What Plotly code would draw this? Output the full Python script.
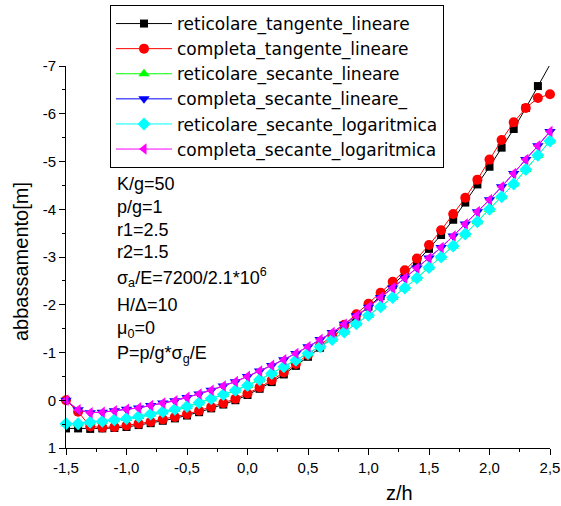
import plotly.graph_objects as go

x = [-1.5, -1.4, -1.3, -1.2, -1.1, -1.0, -0.9, -0.8, -0.7, -0.6, -0.5, -0.4, -0.3, -0.2, -0.1,
     0.0, 0.1, 0.2, 0.3, 0.4, 0.5, 0.6, 0.7, 0.8, 0.9, 1.0, 1.1, 1.2, 1.3, 1.4, 1.5,
     1.6, 1.7, 1.8, 1.9, 2.0, 2.1, 2.2, 2.3, 2.4, 2.5]

reticolare_tangente_lineare = [
    0.59, 0.59, 0.60, 0.59, 0.58, 0.56, 0.52, 0.48, 0.43, 0.38, 0.32, 0.25, 0.17, 0.09, 0.00,
    -0.11, -0.24, -0.38, -0.54, -0.72, -0.91, -1.10, -1.31, -1.52, -1.74, -1.96, -2.18, -2.41, -2.65, -2.90, -3.17,
    -3.46, -3.78, -4.14, -4.52, -4.89, -5.29, -5.68, -6.12, -6.58, -7.03]

completa_tangente_lineare = [
    0.00, 0.24, 0.55, 0.57, 0.56, 0.53, 0.49, 0.45, 0.40, 0.35, 0.29, 0.22, 0.14, 0.06, -0.03,
    -0.14, -0.27, -0.42, -0.58, -0.76, -0.95, -1.15, -1.36, -1.58, -1.80, -2.02, -2.25, -2.48, -2.72, -2.97, -3.25,
    -3.56, -3.90, -4.24, -4.62, -5.04, -5.45, -5.82, -6.12, -6.33, -6.41]

reticolare_secante_lineare = [
    0.49, 0.49, 0.46, 0.44, 0.41, 0.38, 0.34, 0.29, 0.24, 0.19, 0.13, 0.05, -0.03, -0.12, -0.21,
    -0.31, -0.43, -0.56, -0.70, -0.84, -0.98, -1.12, -1.27, -1.43, -1.60, -1.78, -1.96, -2.15, -2.35, -2.56, -2.78,
    -3.00, -3.23, -3.48, -3.74, -4.00, -4.26, -4.53, -4.83, -5.13, -5.43]

completa_secante_lineare = [
    0.00, 0.20, 0.26, 0.25, 0.22, 0.19, 0.16, 0.11, 0.06, 0.01, -0.06, -0.13, -0.21, -0.30, -0.39,
    -0.50, -0.61, -0.73, -0.85, -0.98, -1.12, -1.27, -1.42, -1.59, -1.77, -1.95, -2.15, -2.35, -2.56, -2.77, -2.98,
    -3.20, -3.44, -3.69, -3.95, -4.20, -4.47, -4.75, -5.04, -5.33, -5.63]

reticolare_secante_logaritmica = [
    0.49, 0.49, 0.46, 0.44, 0.41, 0.38, 0.34, 0.29, 0.24, 0.19, 0.13, 0.05, -0.03, -0.12, -0.21,
    -0.31, -0.43, -0.56, -0.70, -0.84, -0.98, -1.12, -1.27, -1.43, -1.60, -1.78, -1.96, -2.15, -2.35, -2.56, -2.78,
    -3.00, -3.23, -3.48, -3.74, -4.00, -4.26, -4.53, -4.83, -5.13, -5.43]

completa_secante_logaritmica = [
    0.00, 0.20, 0.26, 0.25, 0.22, 0.19, 0.16, 0.11, 0.06, 0.01, -0.06, -0.13, -0.21, -0.30, -0.39,
    -0.50, -0.61, -0.73, -0.85, -0.98, -1.12, -1.27, -1.42, -1.59, -1.77, -1.95, -2.15, -2.35, -2.56, -2.77, -2.98,
    -3.20, -3.44, -3.69, -3.95, -4.20, -4.47, -4.75, -5.04, -5.33, -5.63]

series_names = ["reticolare_tangente_lineare", "completa_tangente_lineare", "reticolare_secante_lineare",
                "completa_secante_lineare_", "reticolare_secante_logaritmica", "completa_secante_logaritmica"]
series_values = [reticolare_tangente_lineare, completa_tangente_lineare, reticolare_secante_lineare,
                 completa_secante_lineare, reticolare_secante_logaritmica, completa_secante_logaritmica]

x_tickvals = [-1.5, -1.0, -0.5, 0.0, 0.5, 1.0, 1.5, 2.0, 2.5]
x_ticktext = ["-1,5", "-1,0", "-0,5", "0,0", "0,5", "1,0", "1,5", "2,0", "2,5"]
y_tickvals = [-7, -6, -5, -4, -3, -2, -1, 0, 1]
y_ticktext = ["-7", "-6", "-5", "-4", "-3", "-2", "-1", "0", "1"]

param_lines = ["K/g=50", "p/g=1", "r1=2.5", "r2=1.5",
               "σ<sub>a</sub>/E=7200/2.1*10<sup>6</sup>", "H/Δ=10", "μ<sub>0</sub>=0",
               "P=p/g*σ<sub>g</sub>/E"]

FONT = "Arial, 'Liberation Sans', sans-serif"
LEGFONT = "'DejaVu Sans', Arial, sans-serif"
colors = ["#000000", "#FF0000", "#00FF00", "#0000FF", "#00FFFF", "#FF00FF"]
symbols = ["square", "circle", "triangle-up", "triangle-down", "diamond", "triangle-left"]
sizes = [8, 10, 10, 10, 10, 10]

fig = go.Figure()
for i, (name, vals) in enumerate(zip(series_names, series_values)):
    fig.add_trace(go.Scatter(
        x=x, y=vals, name=name, mode="lines+markers",
        line=dict(color=colors[i], width=1),
        marker=dict(symbol=symbols[i], size=sizes[i], color=colors[i], line=dict(width=0)),
        cliponaxis=(i == 0),
    ))

W, H = 561, 506
L, R, T, B = 66, 11, 66, 58
pw, ph = W - L - R, H - T - B

def px2paper(px, py):
    return (px - L) / pw, (H - B - py) / ph

ann = []
line_y = [184, 207, 230, 252, 277, 305, 329, 354]
for txt, yy in zip(param_lines, line_y):
    ax_, ay_ = px2paper(115, yy)
    ann.append(dict(text=txt, x=ax_, y=ay_, xref="paper", yref="paper", xanchor="left", yanchor="middle",
                    showarrow=False, font=dict(size=18, family=FONT, color="black")))

tx, ty = px2paper(399, 493)
ann.append(dict(text="z/h", x=tx, y=ty, xref="paper", yref="paper", xanchor="center", yanchor="middle",
                showarrow=False, font=dict(size=20, family=FONT, color="black")))
tx, ty = px2paper(21, 262)
ann.append(dict(text="abbassamento[m]", x=tx, y=ty, xref="paper", yref="paper", xanchor="center",
                yanchor="middle", textangle=-90, showarrow=False,
                font=dict(size=20, family=FONT, color="black")))

lx, ly = px2paper(110, 5)

fig.update_layout(
    width=W, height=H,
    margin=dict(l=L, r=R, t=T, b=B, autoexpand=False),
    paper_bgcolor="white", plot_bgcolor="white",
    font=dict(family=FONT, color="black"),
    showlegend=True,
    legend=dict(x=lx, y=ly, xanchor="left", yanchor="top", bordercolor="black", borderwidth=1,
                bgcolor="white", font=dict(size=17, family=LEGFONT, color="black"),
                itemwidth=56, tracegroupgap=0),
    annotations=ann,
    xaxis=dict(range=[-1.5, 2.5], tickvals=x_tickvals, ticktext=x_ticktext, ticks="outside", ticklen=6,
               tickwidth=1, tickcolor="black", showline=True, linecolor="black", linewidth=1,
               showgrid=False, zeroline=False, tickfont=dict(size=15, family=FONT, color="black"),
               minor=dict(dtick=0.25, tick0=-1.5, ticks="outside", ticklen=3, tickcolor="black", showgrid=False)),
    yaxis=dict(range=[1, -7], tickvals=y_tickvals, ticktext=y_ticktext, ticks="outside", ticklen=6,
               tickwidth=1, tickcolor="black", showline=True, linecolor="black", linewidth=1,
               showgrid=False, zeroline=False, tickfont=dict(size=15, family=FONT, color="black"),
               minor=dict(dtick=0.5, tick0=0, ticks="outside", ticklen=3, tickcolor="black", showgrid=False)),
)

fig.write_html("out.html")
